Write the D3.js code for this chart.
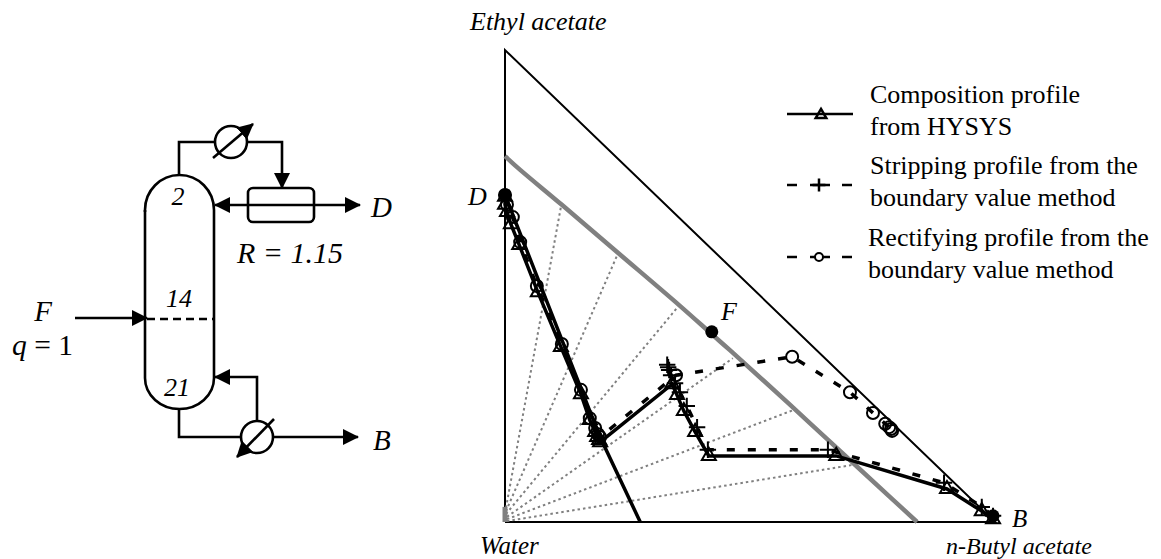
<!DOCTYPE html>
<html>
<head>
<meta charset="utf-8">
<script src="https://cdn.jsdelivr.net/npm/d3@7"></script>
<style>
  html, body { margin: 0; padding: 0; background: #fff; }
  svg { display: block; }
  text { font-family: "Liberation Serif", serif; fill: #000; }
  .it { font-style: italic; }
</style>
</head>
<body>
<svg id="chart" width="1161" height="559"></svg>
<script>
// composition values: [x n-butyl acetate, x ethyl acetate]
const frame = [[0, 0], [1, 0], [0, 1], [0, 0]];
const binodal = [[0, .775], [.031, .746], [.116, .672], [.231, .57], [.357, .458], [.422, .398],
  [.459, .364], [.582, .248], [.657, .176], [.792, .047], [.841, 0]];
const waterBranch = [[0, .032], [0, 0]];
const tieLines = [
  [[.002, .03], [.114, .667]],
  [[.002, .023], [.231, .57]],
  [[.002, .017], [.353, .456]],
  [[.004, .011], [.465, .347]],
  [[.004, .006], [.588, .237]],
  [[.004, .002], [.71, .121]]
];
const boundary = [[0, .693], [.194, .18], [.276, 0]];
const hysys = [[0, .689], [0, .672], [.004, .657], [.012, .631], [.029, .587], [.067, .487],
  [.114, .371], [.155, .271], [.173, .216], [.184, .191], [.188, .18], [.192, .174], [.194, .169],
  [.341, .292], [.351, .269], [.365, .235], [.388, .191], [.416, .14], [.676, .14], [.902, .07],
  [.973, .023], [.996, .006]];
const stripping = [[.996, .013], [.973, .032], [.896, .083], [.659, .153], [.414, .153], [.392, .201],
  [.371, .246], [.357, .275], [.347, .294], [.339, .311], [.335, .322], [.333, .328], [.331, .333]];
const rectifying = [[0, .693], [.004, .672], [.016, .646], [.031, .593], [.065, .5], [.116, .377],
  [.155, .28], [.173, .22], [.184, .199], [.19, .186], [.194, .18], [.349, .311], [.586, .35],
  [.704, .275], [.751, .231], [.776, .208], [.784, .201], [.788, .197], [.79, .193]];
const streams = [
  { name: "D", at: [0, .693] },
  { name: "F", at: [.422, .403] },
  { name: "B", at: [.996, .013] }
];
const cornerLabels = ["Ethyl acetate", "Water", "n-Butyl acetate"];
const legendRows = [
  ["Composition profile", "from HYSYS"],
  ["Stripping profile from the", "boundary value method"],
  ["Rectifying profile from the", "boundary value method"]
];

const svg = d3.select("#chart");
const x = d3.scaleLinear().domain([0, 1]).range([505, 995]);
const y = d3.scaleLinear().domain([0, 1]).range([522, 50]);
const line = d3.line().x((d) => x(d[0])).y((d) => y(d[1]));

const triangle = d3.symbol().type(d3.symbolTriangle2);
const plus = d3.symbol().type(d3.symbolPlus);

// ---- ternary diagram ----
const plot = svg.append("g");
plot.append("path").attr("d", line(frame)).attr("fill", "none").attr("stroke", "#000").attr("stroke-width", 2);

plot.selectAll(".tie").data(tieLines).enter().append("path")
  .attr("class", "tie")
  .attr("d", line)
  .attr("fill", "none")
  .attr("stroke", "#808080")
  .attr("stroke-width", 2)
  .attr("stroke-dasharray", "2.5 3");

plot.append("path").attr("d", line.curve(d3.curveCatmullRom)(binodal)).attr("fill", "none").attr("stroke", "#808080").attr("stroke-width", 4.5);
line.curve(d3.curveLinear);
plot.append("path").attr("d", line(waterBranch)).attr("fill", "none").attr("stroke", "#808080").attr("stroke-width", 5);

plot.append("path").attr("d", line(boundary)).attr("fill", "none").attr("stroke", "#000").attr("stroke-width", 3.5);

plot.append("path").attr("d", line(hysys)).attr("fill", "none").attr("stroke", "#000").attr("stroke-width", 3.5);
plot.selectAll(".tri").data(hysys).enter().append("path")
  .attr("class", "tri")
  .attr("transform", (d) => `translate(${x(d[0])},${y(d[1])})`)
  .attr("d", triangle.size(140)())
  .attr("fill", "none")
  .attr("stroke", "#000")
  .attr("stroke-width", 2);

plot.append("path").attr("d", line(stripping)).attr("fill", "none").attr("stroke", "#000")
  .attr("stroke-width", 3.5).attr("stroke-dasharray", "8 13");
plot.selectAll(".plus").data(stripping).enter().append("path")
  .attr("class", "plus")
  .attr("transform", (d) => `translate(${x(d[0])},${y(d[1])})`)
  .attr("d", plus.size(90)())
  .attr("fill", "none")
  .attr("stroke", "#000")
  .attr("stroke-width", 2);

plot.append("path").attr("d", line(rectifying)).attr("fill", "none").attr("stroke", "#000")
  .attr("stroke-width", 3.5).attr("stroke-dasharray", "8 13");
plot.selectAll(".circ").data(rectifying).enter().append("circle")
  .attr("class", "circ")
  .attr("cx", (d) => x(d[0]))
  .attr("cy", (d) => y(d[1]))
  .attr("r", 6)
  .attr("fill", "none")
  .attr("stroke", "#000")
  .attr("stroke-width", 2);

plot.selectAll(".stream").data(streams).enter().append("circle")
  .attr("class", "stream")
  .attr("cx", (d) => x(d.at[0]))
  .attr("cy", (d) => y(d.at[1]))
  .attr("r", 6.5)
  .attr("fill", "#000");

function label(text, px, py, size, cls, anchor) {
  return svg.append("text").attr("x", px).attr("y", py).attr("font-size", size)
    .attr("class", cls || null).attr("text-anchor", anchor || "start").text(text);
}

label(cornerLabels[0], 470, 30, 26, "it");
label(cornerLabels[1], 480, 554, 25, "it");
label(cornerLabels[2], 946, 554, 24, "it");
label("D", 468, 205, 26, "it");
label("F", 721, 320, 26, "it");
label("B", 1012, 527, 25, "it");

// ---- legend ----
const legendY = [114, 185, 257];
const legendTextX = [870, 870, 868];
legendRows.forEach((row, i) => {
  row.forEach((t, j) => label(t, legendTextX[i], legendY[i] - 11 + j * 32, 26));
});
svg.append("line").attr("x1", 787).attr("x2", 853).attr("y1", legendY[0]).attr("y2", legendY[0])
  .attr("stroke", "#000").attr("stroke-width", 2.5);
svg.append("path").attr("transform", `translate(821,${legendY[0] + 1})`).attr("d", triangle.size(80)())
  .attr("fill", "none").attr("stroke", "#000").attr("stroke-width", 2.5);
[legendY[1], legendY[2]].forEach((ly, i) => {
  [[787, 797], [810, 830], [842, 852]].forEach((s) => {
    svg.append("line").attr("x1", s[0]).attr("x2", s[1]).attr("y1", ly).attr("y2", ly)
      .attr("stroke", "#000").attr("stroke-width", 2.5);
  });
  if (i === 0) {
    svg.append("path").attr("transform", `translate(819,${ly})`).attr("d", plus.size(56)())
      .attr("fill", "none").attr("stroke", "#000").attr("stroke-width", 2.5);
  } else {
    svg.append("circle").attr("cx", 819).attr("cy", ly).attr("r", 4)
      .attr("fill", "#fff").attr("stroke", "#000").attr("stroke-width", 2);
  }
});

// ---- column flowsheet ----
const defs = svg.append("defs");
defs.append("marker").attr("id", "head").attr("viewBox", "0 0 16 16")
  .attr("refX", 15).attr("refY", 8)
  .attr("markerWidth", 16).attr("markerHeight", 16)
  .attr("markerUnits", "userSpaceOnUse")
  .attr("orient", "auto")
  .append("path").attr("d", "M0,0L16,8L0,16Z").attr("fill", "#000");

const sheet = svg.append("g").attr("fill", "none").attr("stroke", "#000").attr("stroke-width", 2.6);
const sheetPath = (pts, arrow) => {
  const p = sheet.append("path").attr("d", d3.line()(pts));
  if (arrow) p.attr("marker-end", "url(#head)");
  return p;
};

sheet.append("path").attr("d", "M145,212V210A34.5,35 0 0 1 214,210V378");
sheet.append("path").attr("d", "M145,210V378");
sheet.append("path").attr("d", "M145,378A34.5,31 0 0 0 214,378");

sheetPath([[179, 175], [179, 142], [215, 142]]);
sheetPath([[247, 142], [282, 142], [282, 188]], true);
sheet.append("circle").attr("cx", 231).attr("cy", 142).attr("r", 16);
sheetPath([[213, 158], [253, 124]], true);

sheet.append("rect").attr("x", 248).attr("y", 188).attr("width", 66).attr("height", 34).attr("rx", 5);
sheetPath([[314, 205], [360, 205]], true);
sheetPath([[314, 205], [215, 205]], true);

sheetPath([[75, 318], [147, 318]], true);
sheetPath([[147, 319], [214, 319]]).attr("stroke-dasharray", "8 5");

sheetPath([[179, 409], [179, 437], [242, 437]]);
sheet.append("circle").attr("cx", 257).attr("cy", 437).attr("r", 16);
sheetPath([[273, 437], [358, 437]], true);
sheetPath([[257, 421], [257, 377], [215, 377]], true);
sheetPath([[274, 419], [237, 457]], true);

label("2", 178, 205, 26, "it", "middle");
label("14", 179, 307, 26, "it", "middle");
label("21", 177, 396, 26, "it", "middle");
label("R = 1.15", 237, 263, 30, "it");
label("D", 371, 217, 29, "it");
label("B", 373, 450, 29, "it");
label("F", 43, 321, 29, "it", "middle");
const q = label("", 12, 355, 29.5);
q.append("tspan").attr("class", "it").text("q");
q.append("tspan").text(" = 1");
</script>
</body>
</html>
